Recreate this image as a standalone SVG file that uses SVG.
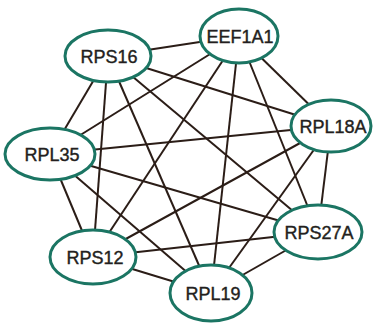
<svg xmlns="http://www.w3.org/2000/svg" width="376" height="327" viewBox="0 0 376 327">
<style>
.edge{stroke:#2b1d17;stroke-width:2;fill:none}
.node ellipse{fill:#ffffff;stroke:#1b7563;stroke-width:3}
.node text{font-family:"Liberation Sans",Arial,sans-serif;font-size:18px;fill:#231f20;stroke:#231f20;stroke-width:0.4;text-anchor:middle;dominant-baseline:central}
</style>
<rect width="376" height="327" fill="#ffffff"/>
<g id="edges">
<line class="edge" x1="108" y1="56" x2="239" y2="36"/>
<line class="edge" x1="108" y1="56" x2="331" y2="126"/>
<line class="edge" x1="108" y1="56" x2="318" y2="232"/>
<line class="edge" x1="108" y1="56" x2="211" y2="293"/>
<line class="edge" x1="108" y1="56" x2="93" y2="257"/>
<line class="edge" x1="108" y1="56" x2="50" y2="154"/>
<line class="edge" x1="239" y1="36" x2="50" y2="154"/>
<line class="edge" x1="239" y1="36" x2="93" y2="257"/>
<line class="edge" x1="239" y1="36" x2="211" y2="293"/>
<line class="edge" x1="239" y1="36" x2="318" y2="232"/>
<line class="edge" x1="239" y1="36" x2="331" y2="126"/>
<line class="edge" x1="331" y1="126" x2="50" y2="154"/>
<line class="edge" x1="331" y1="126" x2="93" y2="257"/>
<line class="edge" x1="331" y1="126" x2="211" y2="293"/>
<line class="edge" x1="331" y1="126" x2="318" y2="232"/>
<line class="edge" x1="50" y1="154" x2="318" y2="232"/>
<line class="edge" x1="50" y1="154" x2="93" y2="257"/>
<line class="edge" x1="50" y1="154" x2="211" y2="293"/>
<line class="edge" x1="318" y1="232" x2="93" y2="257"/>
<line class="edge" x1="318" y1="232" x2="211" y2="293"/>
<line class="edge" x1="93" y1="257" x2="211" y2="293"/>
</g>
<g id="RPS16" class="node"><ellipse cx="108" cy="56" rx="43" ry="26"/><text x="109" y="57">RPS16</text></g>
<g id="EEF1A1" class="node"><ellipse cx="239" cy="36" rx="39" ry="27"/><text x="240" y="37">EEF1A1</text></g>
<g id="RPL18A" class="node"><ellipse cx="331" cy="126" rx="40" ry="26"/><text x="333" y="127">RPL18A</text></g>
<g id="RPL35" class="node"><ellipse cx="50" cy="154" rx="45" ry="26"/><text x="52" y="155">RPL35</text></g>
<g id="RPS27A" class="node"><ellipse cx="318" cy="232" rx="44" ry="27"/><text x="319" y="233">RPS27A</text></g>
<g id="RPS12" class="node"><ellipse cx="93" cy="257" rx="43" ry="27"/><text x="95" y="258">RPS12</text></g>
<g id="RPL19" class="node"><ellipse cx="211" cy="293" rx="41" ry="28"/><text x="213" y="294">RPL19</text></g>
</svg>
